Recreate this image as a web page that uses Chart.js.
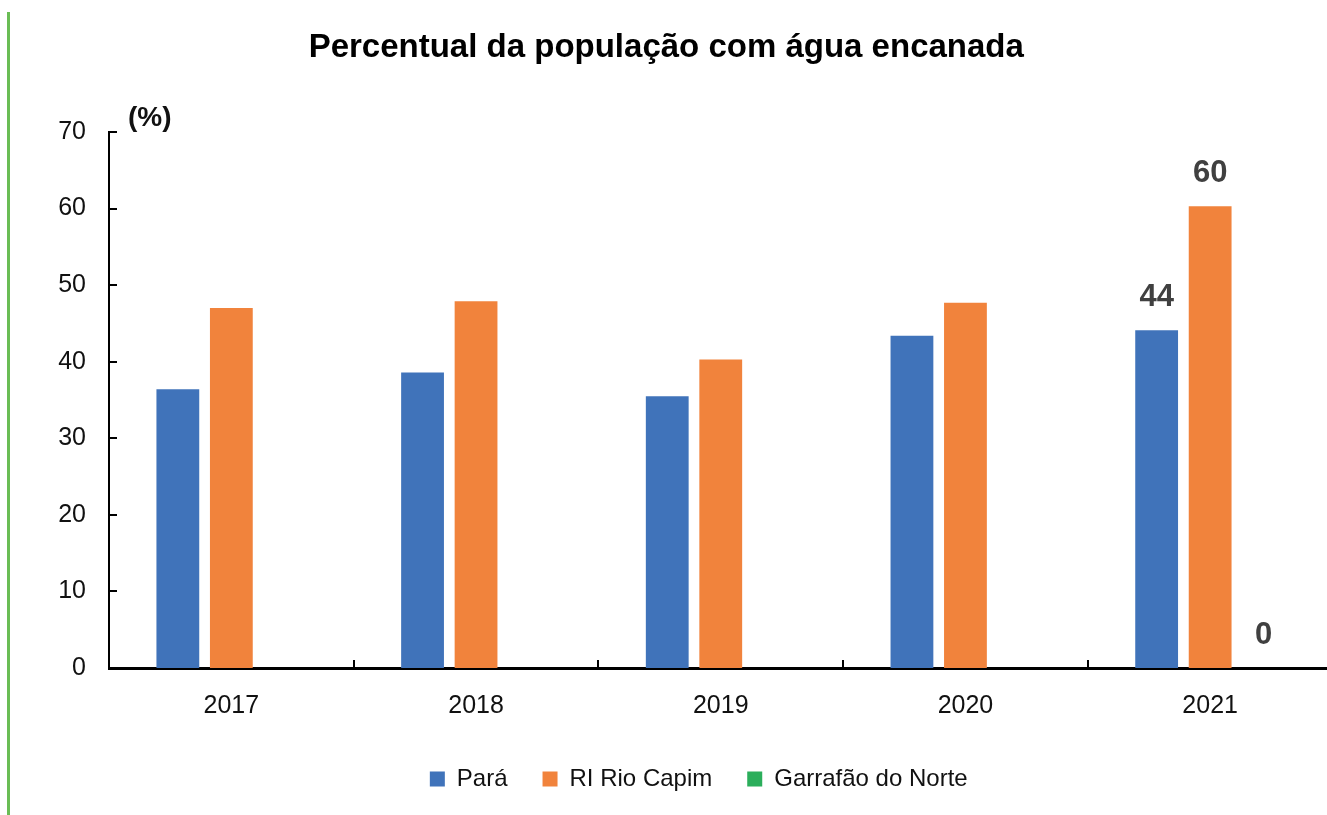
<!DOCTYPE html>
<html>
<head>
<meta charset="utf-8">
<script src="https://cdn.jsdelivr.net/npm/chart.js@4.4.1/dist/chart.umd.min.js"></script>
<style>
  html, body { margin: 0; padding: 0; background: #ffffff; overflow: hidden; width: 1327px; height: 815px; }
  #wrap { position: relative; width: 1335px; height: 815px; }
  #greenRule { position: absolute; left: 7px; top: 12px; width: 3px; height: 803px; background: #6abd55; }
  canvas { position: absolute; left: 0; top: 0; }
</style>
</head>
<body>
<div id="wrap">
  <div id="greenRule"></div>
  <canvas id="c" width="1335" height="815"></canvas>
</div>
<script>
// ---- data ----
const titleText = 'Percentual da população com água encanada';
const unitLabel = '(%)';
const categories = ['2017', '2018', '2019', '2020', '2021'];
const seriesNames = ['Pará', 'RI Rio Capim', 'Garrafão do Norte'];
const paraValues = [36.4, 38.6, 35.5, 43.4, 44.1];
const rioCapimValues = [47.0, 47.9, 40.3, 47.7, 60.3];
const garrafaoValues = [null, null, null, null, 0];
const yMin = 0, yMax = 70, yStep = 10;
const labeledCategories = ['2021'];

// ---- styles ----
const colors = ['#4073ba', '#f1833c', '#2bae5b'];
const sansFont = "'Liberation Sans', Arial, sans-serif";
const legendShift = 22;

const tickMarksPlugin = {
  id: 'tickMarks',
  afterDraw(chart) {
    const ctx = chart.ctx, area = chart.chartArea;
    const xs = chart.scales.x, ys = chart.scales.y;
    ctx.save();
    ctx.strokeStyle = '#000';
    ctx.lineWidth = 2;
    ys.ticks.forEach(t => {
      const y = Math.round(ys.getPixelForValue(t.value));
      ctx.beginPath();
      ctx.moveTo(area.left, y);
      ctx.lineTo(area.left + 8, y);
      ctx.stroke();
    });
    for (let i = 1; i < categories.length; i++) {
      const x = Math.round((xs.getPixelForValue(i - 1) + xs.getPixelForValue(i)) / 2);
      ctx.beginPath();
      ctx.moveTo(x, area.bottom);
      ctx.lineTo(x, area.bottom - 8);
      ctx.stroke();
    }
    // unit label
    ctx.fillStyle = '#111';
    ctx.font = 'bold 28px ' + sansFont;
    ctx.textAlign = 'left';
    ctx.textBaseline = 'middle';
    ctx.fillText(unitLabel, area.left + 19, area.top - 14);
    ctx.restore();
  }
};

const valueLabelsPlugin = {
  id: 'valueLabels',
  afterDatasetsDraw(chart) {
    const ctx = chart.ctx;
    ctx.save();
    ctx.fillStyle = '#404040';
    ctx.font = 'bold 31px ' + sansFont;
    ctx.textAlign = 'center';
    ctx.textBaseline = 'alphabetic';
    chart.data.datasets.forEach((ds, di) => {
      const meta = chart.getDatasetMeta(di);
      categories.forEach((cat, i) => {
        if (!labeledCategories.includes(cat)) return;
        const v = ds.data[i];
        if (v === null || v === undefined) return;
        const el = meta.data[i];
        ctx.fillText(String(Math.round(v)), el.x, el.y - 24);
      });
    });
    ctx.restore();
  }
};

const legendShiftPlugin = {
  id: 'legendShift',
  afterLayout(chart) {
    if (chart.legend) {
      chart.legend.left -= legendShift;
      chart.legend.right -= legendShift;
    }
  }
};

new Chart(document.getElementById('c'), {
  type: 'bar',
  data: {
    labels: categories,
    datasets: [
      { label: seriesNames[0], data: paraValues, backgroundColor: colors[0], borderWidth: 0 },
      { label: seriesNames[1], data: rioCapimValues, backgroundColor: colors[1], borderWidth: 0 },
      { label: seriesNames[2], data: garrafaoValues, backgroundColor: colors[2], borderWidth: 0 }
    ]
  },
  options: {
    responsive: false,
    animation: false,
    devicePixelRatio: 1,
    categoryPercentage: 0.656,
    barPercentage: 0.8,
    layout: { padding: { left: 0, right: 2.5, top: 0, bottom: 14 } },
    plugins: {
      title: {
        display: true,
        text: titleText,
        color: '#000',
        font: { family: sansFont, size: 33, weight: 'bold' },
        padding: { top: 28, bottom: 64.4 }
      },
      legend: {
        display: true,
        position: 'bottom',
        fullSize: false,
        labels: {
          color: '#111',
          font: { family: sansFont, size: 24 },
          boxWidth: 15,
          boxHeight: 15,
          padding: 35
        }
      },
      tooltip: { enabled: false }
    },
    scales: {
      x: {
        grid: { display: false, drawTicks: false },
        border: { display: true, color: '#000', width: 3 },
        ticks: { color: '#111', font: { family: sansFont, size: 25 }, padding: 23 },
        afterFit(scale) { scale.height = 64; }
      },
      y: {
        min: yMin,
        max: yMax,
        grid: { display: false, drawTicks: false },
        border: { display: true, color: '#000', width: 2 },
        ticks: { stepSize: yStep, color: '#111', font: { family: sansFont, size: 25 }, padding: 23 },
        afterFit(scale) { scale.width = 109; }
      }
    }
  },
  plugins: [tickMarksPlugin, valueLabelsPlugin, legendShiftPlugin]
});
</script>
</body>
</html>
